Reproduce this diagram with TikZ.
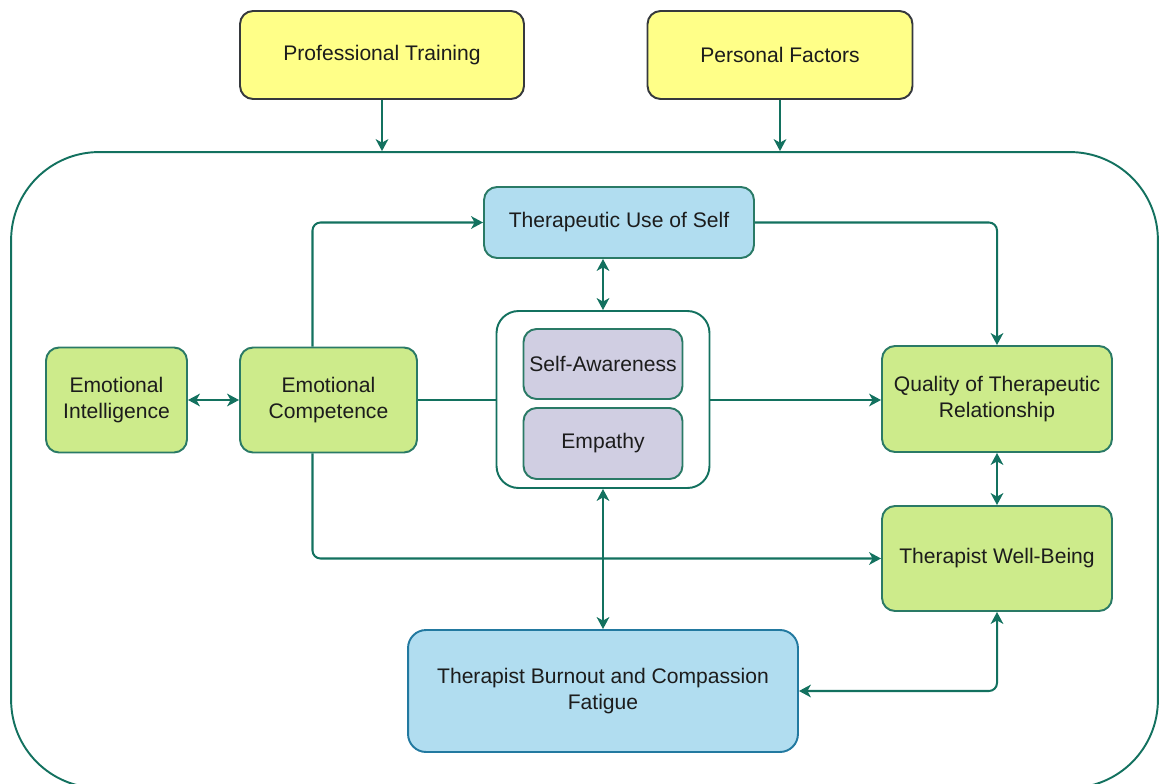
\documentclass[tikz,border=0pt]{standalone}
\usepackage{fontspec}
\setmainfont{Liberation Sans}
\usetikzlibrary{arrows.meta}
\definecolor{teal}{HTML}{13715F}
\definecolor{boxteal}{HTML}{2A7A66}
\definecolor{ylwfill}{HTML}{FFFF88}
\definecolor{ylwline}{HTML}{36393D}
\definecolor{grnfill}{HTML}{CDEB8B}
\definecolor{bluefill}{HTML}{B1DDF0}
\definecolor{blueline}{HTML}{2279A0}
\definecolor{purfill}{HTML}{D0CEE2}
\definecolor{txt}{HTML}{1C1C1C}
\tikzset{
  box/.style={draw=boxteal, line width=1.1pt, rounded corners=0.26cm, align=center,
              text=txt, font=\fontsize{12pt}{14.7pt}\selectfont, inner sep=2pt},
  ylwbox/.style={box, draw=ylwline, fill=ylwfill},
  grnbox/.style={box, fill=grnfill},
  bluebox/.style={box, fill=bluefill},
  purbox/.style={box, fill=purfill},
  tip/.tip={Stealth[length=6.8pt, width=7.2pt, inset=2pt]},
  conn/.style={draw=teal, line width=1.15pt, rounded corners=0.16cm},
  arr/.style={conn, -tip},
  darr/.style={conn, tip-tip},
}
\begin{document}
\begin{tikzpicture}[x=0.02cm, y=-0.02cm]
\useasboundingbox (0,0) rectangle (1160,784);

% outer frame holding the core model
\node[draw=teal, line width=1.1pt, rounded corners=1.76cm,
      minimum width=22.94cm, minimum height=12.72cm, inner sep=0pt]
      (frame) at (584.5,470) {};

% external influences
\node[ylwbox, minimum width=5.68cm, minimum height=1.76cm] (pt) at (382,55) {Professional Training};
\node[ylwbox, minimum width=5.30cm, minimum height=1.76cm] (pf) at (780,55) {Personal Factors};

% core boxes
\node[bluebox, minimum width=5.40cm, minimum height=1.42cm] (tus) at (619,222.5) {Therapeutic Use of Self};
\node[grnbox, minimum width=2.82cm, minimum height=2.10cm] (ei) at (116.5,400) {Emotional\\Intelligence};
\node[grnbox, minimum width=3.54cm, minimum height=2.10cm] (ec) at (328.5,400) {Emotional\\Competence};
\node[grnbox, minimum width=4.60cm, minimum height=2.12cm] (q) at (997,399) {Quality of Therapeutic\\Relationship};
\node[grnbox, minimum width=4.60cm, minimum height=2.10cm] (wb) at (997,558.5) {Therapist Well-Being};
\node[bluebox, draw=blueline, rounded corners=0.36cm, minimum width=7.80cm, minimum height=2.44cm]
      (bo) at (603,691) {Therapist Burnout and Compassion\\Fatigue};

% competence feeds relationship quality (passes behind the group)
\draw[arr] (ec.east) -- (ec.east -| q.west);

% group: self-awareness and empathy
\node[draw=teal, fill=white, line width=1.1pt, rounded corners=0.44cm,
      minimum width=4.26cm, minimum height=3.54cm, inner sep=0pt] (grp) at (603,399.5) {};
\node[purbox, minimum width=3.18cm, minimum height=1.40cm] (sa) at (603,364) {Self-Awareness};
\node[purbox, minimum width=3.18cm, minimum height=1.42cm] (em) at (603,443.5) {Empathy};

% connectors
\draw[arr] (pt.south) -- (pt.south |- frame.north);
\draw[arr] (pf.south) -- (pf.south |- frame.north);
\draw[darr] (ei.east) -- (ec.west);
\draw[arr] ([xshift=-0.32cm]ec.north) |- (tus.west);
\draw[arr] (tus.east) -| (q.north);
\draw[darr] (tus.south -| grp.north) -- (grp.north);
\draw[arr] ([xshift=-0.32cm]ec.south) |- (wb.west);
\draw[darr] (q.south) -- (wb.north);
\draw[darr] (grp.south) -- (grp.south |- bo.north);
\draw[darr] (wb.south) |- (bo.east);
\end{tikzpicture}
\end{document}
